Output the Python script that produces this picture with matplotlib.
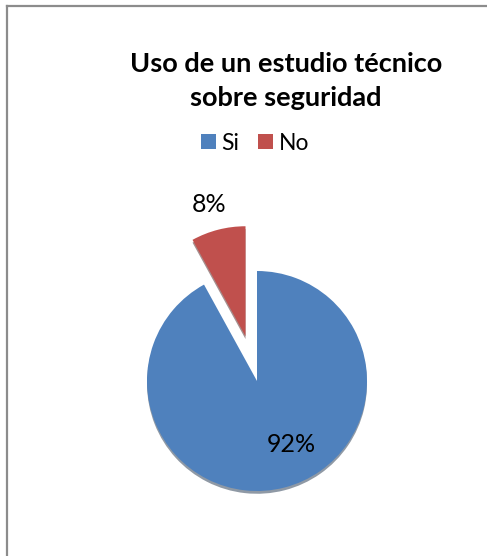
import matplotlib
matplotlib.use("Agg")
import matplotlib.pyplot as plt
from matplotlib.lines import Line2D
from matplotlib.patches import Patch

plt.rcParams['font.family'] = ['Lato', 'DejaVu Sans']

title = "Uso de un estudio técnico\nsobre seguridad"
categories = ["Si", "No"]
values = [92, 8]
pct_labels = ["92%", "8%"]
colors = ["#4F81BD", "#C0504D"]

W, H = 487, 556
fig = plt.figure(figsize=(W / 100, H / 100), dpi=100)
ax = fig.add_axes([0, 0, 1, 1])

cx, cy, r = 257, H - 381, 110
wedges, texts = ax.pie(values, colors=colors, startangle=90, counterclock=False,
                       center=(cx, cy), radius=r, explode=[0, 0.42 * r],
                       shadow={'ox': 0, 'oy': -2, 'shade': 0.6},
                       wedgeprops=dict(linewidth=0), frame=True)
ax.set_xlim(0, W)
ax.set_ylim(0, H)
ax.set_aspect('equal')
ax.axis('off')

ax.text(291, H - 444, pct_labels[0], ha='center', va='center', fontsize=18, color='black')
ax.text(209, H - 204, pct_labels[1], ha='center', va='center', fontsize=18, color='black')

fig.text(286 / W, 1 - 81 / H, title, ha='center', va='center', fontsize=19.5,
         fontweight='bold', linespacing=1.5)

handles = [Patch(facecolor=c, edgecolor='none') for c in colors]
fig.legend(handles, categories, loc='center', bbox_to_anchor=(255 / W, 1 - 143 / H),
           ncol=2, frameon=False, fontsize=16.5, handlelength=0.65, handleheight=0.65,
           handletextpad=0.25, columnspacing=0.8)

fig.add_artist(Line2D([7 / W, 7 / W], [0, 1 - 6 / H], transform=fig.transFigure,
                      color='#8c8c8c', linewidth=1.6))
fig.add_artist(Line2D([7 / W, 1], [1 - 6 / H, 1 - 6 / H], transform=fig.transFigure,
                      color='#8c8c8c', linewidth=1.6))

fig.savefig("out.png", dpi=100, facecolor='white')
